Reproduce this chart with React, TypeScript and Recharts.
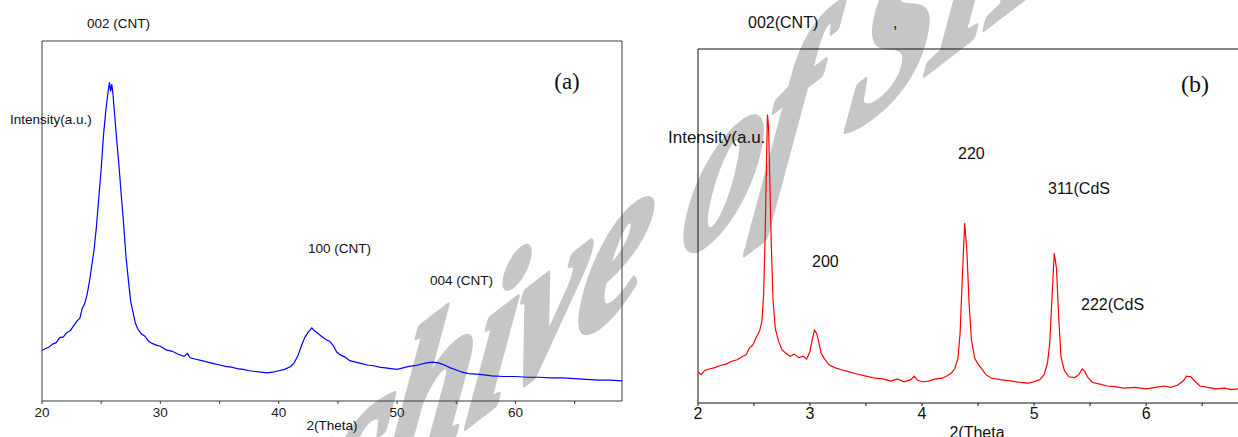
import { LineChart, Line, XAxis, YAxis, ReferenceLine } from "recharts";

// panel (a): CNT
const blueTheta = [
  20.0, 20.3, 20.6, 20.9, 21.2, 21.5, 21.8, 22.1, 22.4, 22.7, 23.0, 23.2, 23.4, 23.6, 23.8, 24.0, 24.2, 24.4,
  24.6, 24.8, 25.0, 25.2, 25.4, 25.55, 25.7, 25.8, 25.9, 26.0, 26.15, 26.3, 26.5, 26.7, 26.9, 27.1, 27.3, 27.5,
  27.7, 27.9, 28.1, 28.4, 28.7, 29.0, 29.3, 29.6, 30.0, 30.5, 31.0, 31.5, 32.0, 32.3, 32.5, 33.0, 33.5, 34.0,
  34.5, 35.0, 35.5, 36.0, 36.5, 37.0, 37.5, 38.0, 38.5, 39.0, 39.5, 40.0, 40.5, 41.0, 41.3, 41.6, 41.9, 42.2,
  42.5, 42.8, 43.0, 43.3, 43.6, 44.0, 44.3, 44.6, 44.9, 45.2, 45.6, 46.0, 46.5, 47.0, 47.5, 48.0, 48.5, 49.0,
  49.5, 50.0, 50.5, 51.0, 51.5, 52.0, 52.5, 53.0, 53.5, 54.0, 54.5, 55.0, 55.5, 56.0, 57.0, 58.0, 59.0, 60.0,
  61.0, 62.0, 63.0, 64.0, 65.0, 66.0, 67.0, 68.0, 69.0,
];
const blueIntensity = [
  14.0, 14.6, 15.0, 15.8, 16.2, 17.6, 17.8, 19.0, 19.6, 21.0, 22.4, 23.0, 25.8, 27.0, 29.4, 33.0, 37.5, 42.0,
  48.5, 56.5, 64.5, 74.0, 81.0, 85.0, 88.5, 86.0, 88.0, 85.0, 79.0, 73.0, 65.5, 57.0, 49.0, 40.0, 33.5, 27.5,
  24.5, 21.5, 20.0, 18.6, 18.0, 16.6, 16.0, 15.6, 15.2, 14.2, 13.8, 13.0, 12.4, 13.2, 12.0, 11.6, 11.2, 10.8,
  10.4, 10.0, 9.6, 9.4, 9.0, 8.8, 8.4, 8.2, 8.0, 7.8, 8.0, 8.4, 8.8, 9.6, 10.6, 12.4, 15.2, 17.6,
  19.2, 20.3, 19.6, 18.8, 18.0, 17.0, 16.6, 15.4, 13.6, 12.8, 12.2, 11.2, 10.8, 10.4, 10.0, 9.8, 9.4, 9.2,
  9.0, 8.8, 9.2, 9.6, 9.8, 10.2, 10.6, 10.8, 10.6, 10.0, 9.2, 8.6, 8.0, 7.6, 7.4, 7.0, 6.8, 6.8,
  6.6, 6.6, 6.4, 6.4, 6.2, 6.0, 5.8, 5.8, 5.6,
];
const blueTicks = [20, 25, 30, 35, 40, 45, 50, 55, 60, 65];

// panel (b): CdS / CNT
const redTheta = [
  2.0, 2.03, 2.06, 2.1, 2.15, 2.2, 2.25, 2.3, 2.35, 2.4, 2.43, 2.46, 2.49, 2.52, 2.55, 2.57, 2.585, 2.6, 2.61,
  2.62, 2.63, 2.64, 2.655, 2.67, 2.69, 2.72, 2.75, 2.78, 2.82, 2.86, 2.9, 2.94, 2.97, 3.0, 3.02, 3.04, 3.06,
  3.08, 3.1, 3.13, 3.17, 3.22, 3.28, 3.35, 3.42, 3.5, 3.58, 3.65, 3.72, 3.78, 3.84, 3.9, 3.93, 3.96, 4.0,
  4.06, 4.12, 4.18, 4.22, 4.26, 4.29, 4.32, 4.34, 4.36, 4.38, 4.4, 4.42, 4.44, 4.47, 4.5, 4.53, 4.57, 4.62,
  4.7, 4.8, 4.88, 4.95, 5.0, 5.05, 5.09, 5.12, 5.14, 5.16, 5.18, 5.2, 5.22, 5.24, 5.27, 5.31, 5.36, 5.4,
  5.43, 5.45, 5.48, 5.52, 5.58, 5.65, 5.72, 5.8, 5.9, 6.0, 6.08, 6.16, 6.22, 6.28, 6.33, 6.36, 6.4, 6.44,
  6.48, 6.55, 6.62, 6.7, 6.76, 6.82,
];
const redIntensity = [
  8.8, 8.0, 9.2, 9.6, 10.0, 10.6, 11.0, 11.8, 12.2, 13.2, 13.6, 15.6, 16.4, 18.6, 20.4, 23.0, 30.0, 48.0, 66.0,
  81.5, 78.0, 64.0, 44.0, 29.0, 21.0, 17.4, 15.0, 14.2, 13.2, 13.8, 12.8, 13.2, 12.4, 14.6, 18.0, 20.6, 19.6,
  17.0, 14.0, 12.4, 10.8, 10.0, 9.4, 8.8, 8.2, 7.6, 7.0, 6.8, 6.2, 6.8, 6.0, 6.6, 7.6, 6.4, 6.0,
  6.2, 6.8, 7.0, 7.6, 8.4, 9.6, 12.5, 20.0, 36.0, 50.8, 43.0, 28.0, 18.0, 12.6, 11.0, 9.8, 8.0, 7.0,
  6.6, 6.2, 5.8, 5.6, 6.0, 6.6, 8.0, 11.4, 17.0, 30.0, 42.3, 38.0, 24.0, 13.0, 9.2, 7.4, 7.2, 8.0,
  9.6, 9.0, 7.2, 5.8, 5.4, 4.8, 4.6, 4.2, 4.4, 4.0, 4.4, 4.8, 4.4, 5.0, 6.2, 7.6, 7.4, 6.0,
  4.8, 4.4, 4.0, 4.2, 3.8, 4.0,
];
const redTicks = [2, 2.5, 3, 3.5, 4, 4.5, 5, 5.5, 6, 6.5];

const blueData = blueTheta.map((theta, i) => ({ theta, intensity: blueIntensity[i] }));
const redData = redTheta.map((theta, i) => ({ theta, intensity: redIntensity[i] }));

const SANS = "'Liberation Sans', Arial, sans-serif";
const SERIF = "'Liberation Serif', 'Times New Roman', serif";

function Watermark() {
  return (
    <svg width={1238} height={437} style={{ position: "absolute", left: 0, top: 0 }}>
      <text
        transform="matrix(0.78,-0.6,-0.2,1.15,150,670)"
        fill="#c6c6c6"
        stroke="#c6c6c6"
        strokeWidth={7}
        strokeLinejoin="round"
        fontFamily={SERIF}
        fontStyle="italic"
        fontWeight="bold"
        fontSize={195}
      >
        Archive of SID
      </text>
    </svg>
  );
}

function PanelA() {
  const frame = "#3a3a3a";
  const tickStyle = { fill: "#222", fontSize: 13.5, fontFamily: SANS };
  return (
    <LineChart
      width={640}
      height={437}
      data={blueData}
      margin={{ top: 41, right: 18, bottom: 6, left: 42 }}
      style={{ position: "absolute", left: 0, top: 0 }}
    >
      <XAxis
        dataKey="theta"
        type="number"
        domain={[20, 69]}
        ticks={blueTicks}
        tickFormatter={(v) => (v % 10 === 0 ? String(v) : "")}
        tickSize={3}
        tickMargin={3}
        height={30}
        stroke={frame}
        tick={tickStyle}
        allowDataOverflow
      />
      <YAxis hide domain={[0, 100]} />
      <ReferenceLine y={100} stroke={frame} />
      <ReferenceLine x={20} stroke={frame} />
      <ReferenceLine x={69} stroke={frame} />
      <Line dataKey="intensity" stroke="#0000ff" strokeWidth={1.2} dot={false} isAnimationActive={false} />
    </LineChart>
  );
}

function PanelB() {
  const frame = "#111";
  const tickStyle = { fill: "#111", fontSize: 16, fontFamily: SANS };
  return (
    <LineChart
      width={598}
      height={437}
      data={redData}
      margin={{ top: 49, right: 0, bottom: 4, left: 58 }}
      style={{ position: "absolute", left: 640, top: 0 }}
    >
      <XAxis
        dataKey="theta"
        type="number"
        domain={[2, 6.82]}
        ticks={redTicks}
        tickFormatter={(v) => (Number.isInteger(v) ? String(v) : "")}
        tickSize={3}
        tickMargin={2}
        height={30}
        stroke={frame}
        tick={tickStyle}
        allowDataOverflow
      />
      <YAxis hide domain={[0, 100]} />
      <ReferenceLine y={100} stroke={frame} />
      <ReferenceLine x={2} stroke={frame} />
      <Line dataKey="intensity" stroke="#ff0000" strokeWidth={1.2} dot={false} isAnimationActive={false} />
    </LineChart>
  );
}

function Labels() {
  const a = { fontFamily: SANS, fontSize: 13.5, fill: "#111" };
  const b = { fontFamily: SANS, fontSize: 16, fill: "#111" };
  return (
    <svg width={1238} height={437} style={{ position: "absolute", left: 0, top: 0, pointerEvents: "none" }}>
      <text x={87} y={28} {...a}>002 (CNT)</text>
      <text x={10} y={124} {...a}>Intensity(a.u.)</text>
      <text x={308} y={253} {...a}>100 (CNT)</text>
      <text x={430} y={285} {...a}>004 (CNT)</text>
      <text x={332} y={430} textAnchor="middle" {...a}>2(Theta)</text>
      <text x={567} y={89} textAnchor="middle" fontFamily={SERIF} fontSize={23} fill="#111">(a)</text>

      <text x={748} y={28} {...b}>002(CNT)</text>
      <text x={893} y={28} {...b}>,</text>
      <text x={668} y={143} {...b} fontSize={17}>Intensity(a.u.</text>
      <text x={958} y={159} {...b}>220</text>
      <text x={812} y={267} {...b}>200</text>
      <text x={1048} y={194} {...b}>311(CdS</text>
      <text x={1081} y={310} {...b}>222(CdS</text>
      <text x={977} y={438} textAnchor="middle" {...b}>2(Theta</text>
      <text x={1195} y={92} textAnchor="middle" fontFamily={SERIF} fontSize={24} fill="#111">(b)</text>
    </svg>
  );
}

export default function App() {
  return (
    <div style={{ position: "absolute", left: 0, top: 0, width: 1238, height: 437, overflow: "hidden", background: "#fff" }}>
      <Watermark />
      <PanelA />
      <PanelB />
      <Labels />
    </div>
  );
}
